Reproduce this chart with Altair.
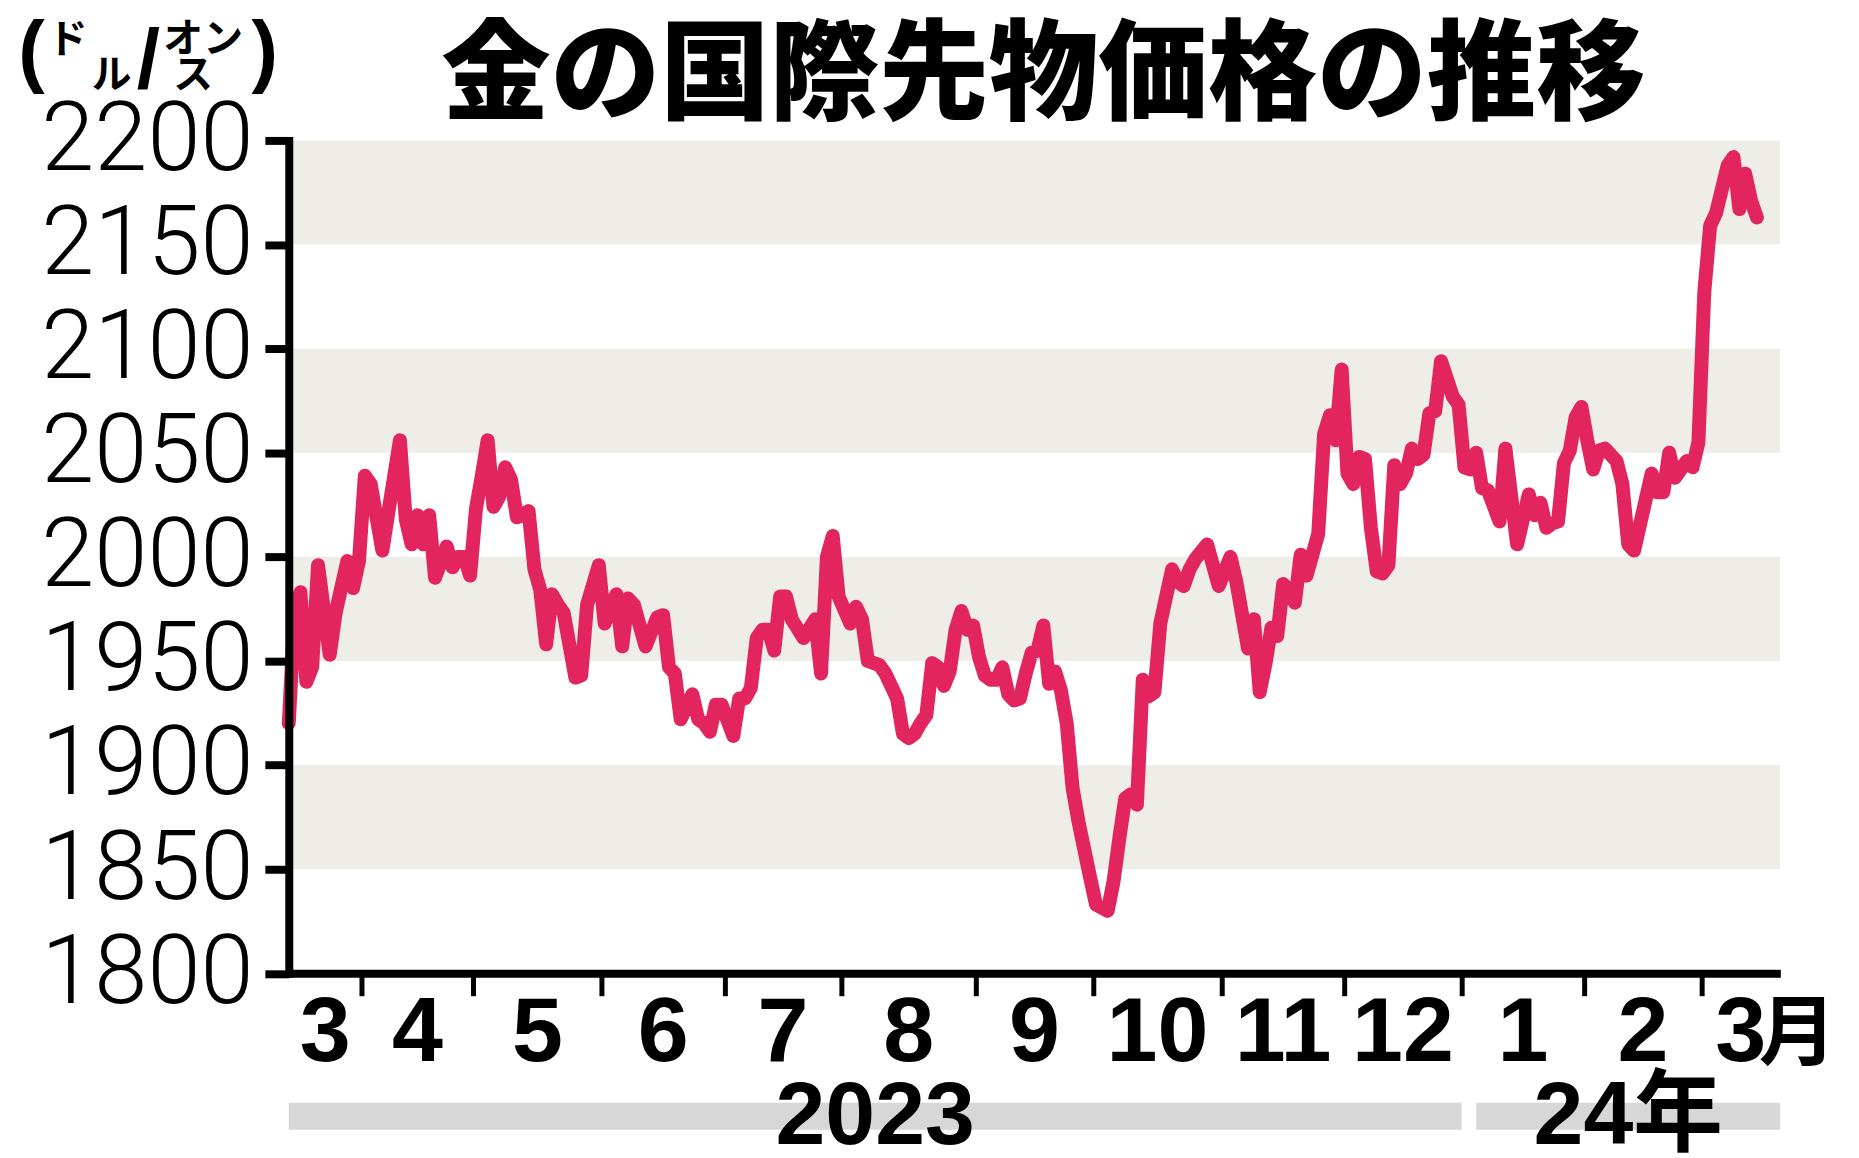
import altair as alt
import numpy as np
import pandas as pd

# ---- data (trading-session index from mid-March 2023, price in USD/oz) ----
session = [0, 1, 2, 3, 4, 5, 7, 8, 10, 11, 12, 13, 14, 16, 17, 19, 20, 21, 22, 23,
           24, 25, 27, 28, 29, 30, 31, 32, 33, 34, 35, 36, 37, 38, 39, 41, 42, 43, 44, 45,
           46, 47, 49, 50, 51, 53, 54, 56, 57, 58, 59, 61, 63, 64, 65, 66, 67, 69, 70, 71,
           72, 73, 74, 76, 77, 78, 79, 80, 81, 82, 83, 84, 85, 86, 88, 90, 91, 92, 93, 94,
           96, 97, 98, 99, 101, 102, 104, 105, 106, 107, 108, 109, 110, 111, 112, 113, 114, 115, 116, 117,
           118, 119, 120, 121, 122, 123, 124, 125, 126, 127, 128, 129, 130, 131, 132, 133, 134, 135, 137, 138,
           140, 141, 142, 143, 144, 145, 146, 147, 148, 149, 151, 152, 153, 154, 155, 157, 159, 161, 162, 164,
           165, 166, 167, 168, 169, 170, 171, 172, 173, 174, 175, 176, 177, 178, 179, 180, 181, 182, 183, 184,
           185, 186, 187, 188, 189, 190, 191, 192, 193, 194, 195, 196, 197, 199, 200, 201, 202, 203, 204, 205,
           207, 208, 210, 212, 213, 214, 215, 216, 217, 218, 219, 220, 221, 222, 223, 224, 225, 227, 228, 229,
           230, 233, 234, 235, 236, 237, 239, 240, 241, 242, 243, 244, 246, 247, 248, 249, 250, 251]
price = [1920, 1974, 1983, 1940, 1947, 1996, 1953, 1973, 1998, 1985, 1998, 2039, 2035, 2003, 2021, 2056, 2018, 2006, 2020, 2006,
         2020, 1990, 2005, 1995, 2000, 2000, 1991, 2023, 2039, 2056, 2024, 2029, 2043, 2037, 2019, 2022, 1994, 1984, 1958, 1982,
         1977, 1973, 1942, 1943, 1977, 1996, 1968, 1982, 1957, 1980, 1977, 1957, 1971, 1972, 1947, 1944, 1922, 1934, 1922, 1920,
         1916, 1929, 1929, 1914, 1932, 1932, 1937, 1961, 1965, 1965, 1955, 1981, 1981, 1970, 1961, 1970, 1944, 2000, 2010, 1981,
         1968, 1976, 1970, 1950, 1948, 1944, 1932, 1915, 1913, 1915, 1920, 1924, 1949, 1947, 1938, 1945, 1965, 1974, 1965, 1967,
         1952, 1943, 1941, 1941, 1947, 1934, 1931, 1932, 1944, 1954, 1955, 1967, 1939, 1945, 1936, 1920, 1889, 1873, 1846, 1833,
         1830, 1844, 1865, 1884, 1886, 1881, 1941, 1933, 1935, 1968, 1994, 1988, 1986, 1994, 1999, 2006, 1986, 2000, 1988, 1956,
         1970, 1935, 1949, 1966, 1962, 1987, 1984, 1978, 2001, 1991, 2001, 2011, 2059, 2068, 2056, 2090, 2040, 2035, 2048, 2047,
         2014, 1993, 1992, 1996, 2044, 2035, 2040, 2052, 2047, 2049, 2069, 2070, 2094, 2077, 2073, 2043, 2042, 2050, 2033, 2032,
         2017, 2052, 2006, 2030, 2020, 2026, 2014, 2016, 2017, 2045, 2051, 2067, 2072, 2056, 2042, 2051, 2052, 2046, 2035, 2006,
         2003, 2040, 2031, 2031, 2050, 2038, 2046, 2043, 2055, 2127, 2159, 2165, 2188, 2192, 2167, 2184, 2171, 2163]

month_names = ["3", "4", "5", "6", "7", "8", "9", "10", "11", "12", "1", "2", "3"]
sessions_per_month = [13, 19, 22, 21, 20, 23, 20, 22, 21, 20, 21, 20, 13]
year_names = ["2023", "24年"]
months_in_year = [10, 3]
y_ticks = [1800, 1850, 1900, 1950, 2000, 2050, 2100, 2150, 2200]
band_lows = [1850, 1950, 2050, 2150]

# ---- derived layout helpers ----
W, H = 1498, 836.5
X_MAX = sum(sessions_per_month)
ends = np.cumsum(sessions_per_month) - 0.5
starts = np.concatenate([[0.0], ends[:-1]])
ends[-1] = X_MAX
month_bounds = [float(v) for v in ends[:-1]]
month_mids = [float(v) for v in (starts + ends) / 2]

y_end = ends[months_in_year[0] - 1]
bar_start = [0.0, float(y_end) + 2.5]
bar_end = [float(y_end), float(X_MAX)]
bar_mid = [(a + b) / 2 for a, b in zip(bar_start, bar_end)]

xscale = alt.Scale(domain=[0, X_MAX], nice=False, zero=False)
yscale = alt.Scale(domain=[1800, 2200], nice=False, zero=False)

xaxis = alt.Axis(
    values=month_bounds, labels=False, title=None, ticks=True, tickSize=22.5,
    tickWidth=5, tickColor="black", domainColor="black", domainWidth=8,
    grid=False, zindex=1)
yaxis = alt.Axis(
    values=y_ticks, format="d", title=None, tickSize=24, tickWidth=8, tickColor="black",
    domainColor="black", domainWidth=8, domainCap="square", grid=False,
    labelFont="Roboto", labelFontWeight=300, labelFontSize=96, labelColor="black",
    labelPadding=12, labelOverlap=False, labelLimit=500, labelBaseline="middle", zindex=1)

LINE = "#e2245f"
BAND = "#eeede7"
BAR = "#d7d7d7"
NUM_FONT = "Liberation Sans, Arial, Noto Sans CJK JP"
JP_FONT = "Noto Sans CJK JP"

df = pd.DataFrame({"session": session, "price": price})

bands = alt.Chart(pd.DataFrame({"lo": band_lows, "hi": [b + 50 for b in band_lows]})).mark_rect(
    color=BAND
).encode(
    y=alt.Y("lo:Q", scale=yscale, axis=yaxis),
    y2="hi:Q",
    x=alt.value(0),
    x2=alt.value(W),
)

line = alt.Chart(df).mark_line(
    color=LINE, strokeWidth=14, strokeJoin="round", strokeCap="round"
).encode(
    x=alt.X("session:Q", scale=xscale, axis=xaxis),
    y=alt.Y("price:Q", scale=yscale, axis=yaxis),
)

year_bars = alt.Chart(pd.DataFrame({"s": bar_start, "e": bar_end})).mark_rect(color=BAR).encode(
    x=alt.X("s:Q", scale=xscale, axis=xaxis),
    x2="e:Q",
    y=alt.value(966.5),
    y2=alt.value(993.5),
)

year_labels = alt.Chart(pd.DataFrame({"m": bar_mid, "t": year_names})).mark_text(
    font=NUM_FONT, fontSize=90, fontWeight="bold", color="black",
    align="center", baseline="alphabetic"
).encode(x=alt.X("m:Q", scale=xscale, axis=xaxis), y=alt.value(1008), text="t:N")

month_labels = alt.Chart(pd.DataFrame({"m": month_mids, "t": month_names})).mark_text(
    font=NUM_FONT, fontSize=92, fontWeight="bold", color="black",
    align="center", baseline="alphabetic"
).encode(x=alt.X("m:Q", scale=xscale, axis=xaxis), y=alt.value(924.5), text="t:N")

tsuki = alt.Chart(pd.DataFrame({"m": [month_mids[-1]], "t": ["月"]})).mark_text(
    font=JP_FONT, fontSize=78, fontWeight="bold", color="black",
    align="center", baseline="alphabetic", dx=57
).encode(x=alt.X("m:Q", scale=xscale, axis=xaxis), y=alt.value(922.5), text="t:N")


def note(text, x, y, size, font, weight="bold", baseline="alphabetic"):
    return alt.Chart(pd.DataFrame({"t": [text]})).mark_text(
        font=font, fontSize=size, fontWeight=weight, color="black",
        align="center", baseline=baseline
    ).encode(x=alt.value(x), y=alt.value(y), text="t:N")


title = note("金の国際先物価格の推移", 758, -29.5, 110, JP_FONT, weight=900)
unit = [
    note("(", -258.5, -63.5, 80, NUM_FONT),
    note(")", -24, -63.5, 80, NUM_FONT),
    note("ド", -222, -87.5, 40, JP_FONT),
    note("ル", -178, -52.5, 40, JP_FONT),
    note("/", -141, -53, 84, NUM_FONT),
    note("オン", -86, -88.5, 40, JP_FONT),
    note("ス", -96, -52.5, 40, JP_FONT),
]

chart = alt.layer(
    bands, year_bars, line, year_labels, month_labels, tsuki, title, *unit
).properties(
    width=W, height=H,
    padding={"left": 282, "top": 130.5, "right": 71, "bottom": 183},
    autosize=alt.AutoSizeParams(type="none"),
    background="white",
).configure_view(stroke=None)

chart.save("out.html", embed_options={"renderer": "svg", "actions": False})
